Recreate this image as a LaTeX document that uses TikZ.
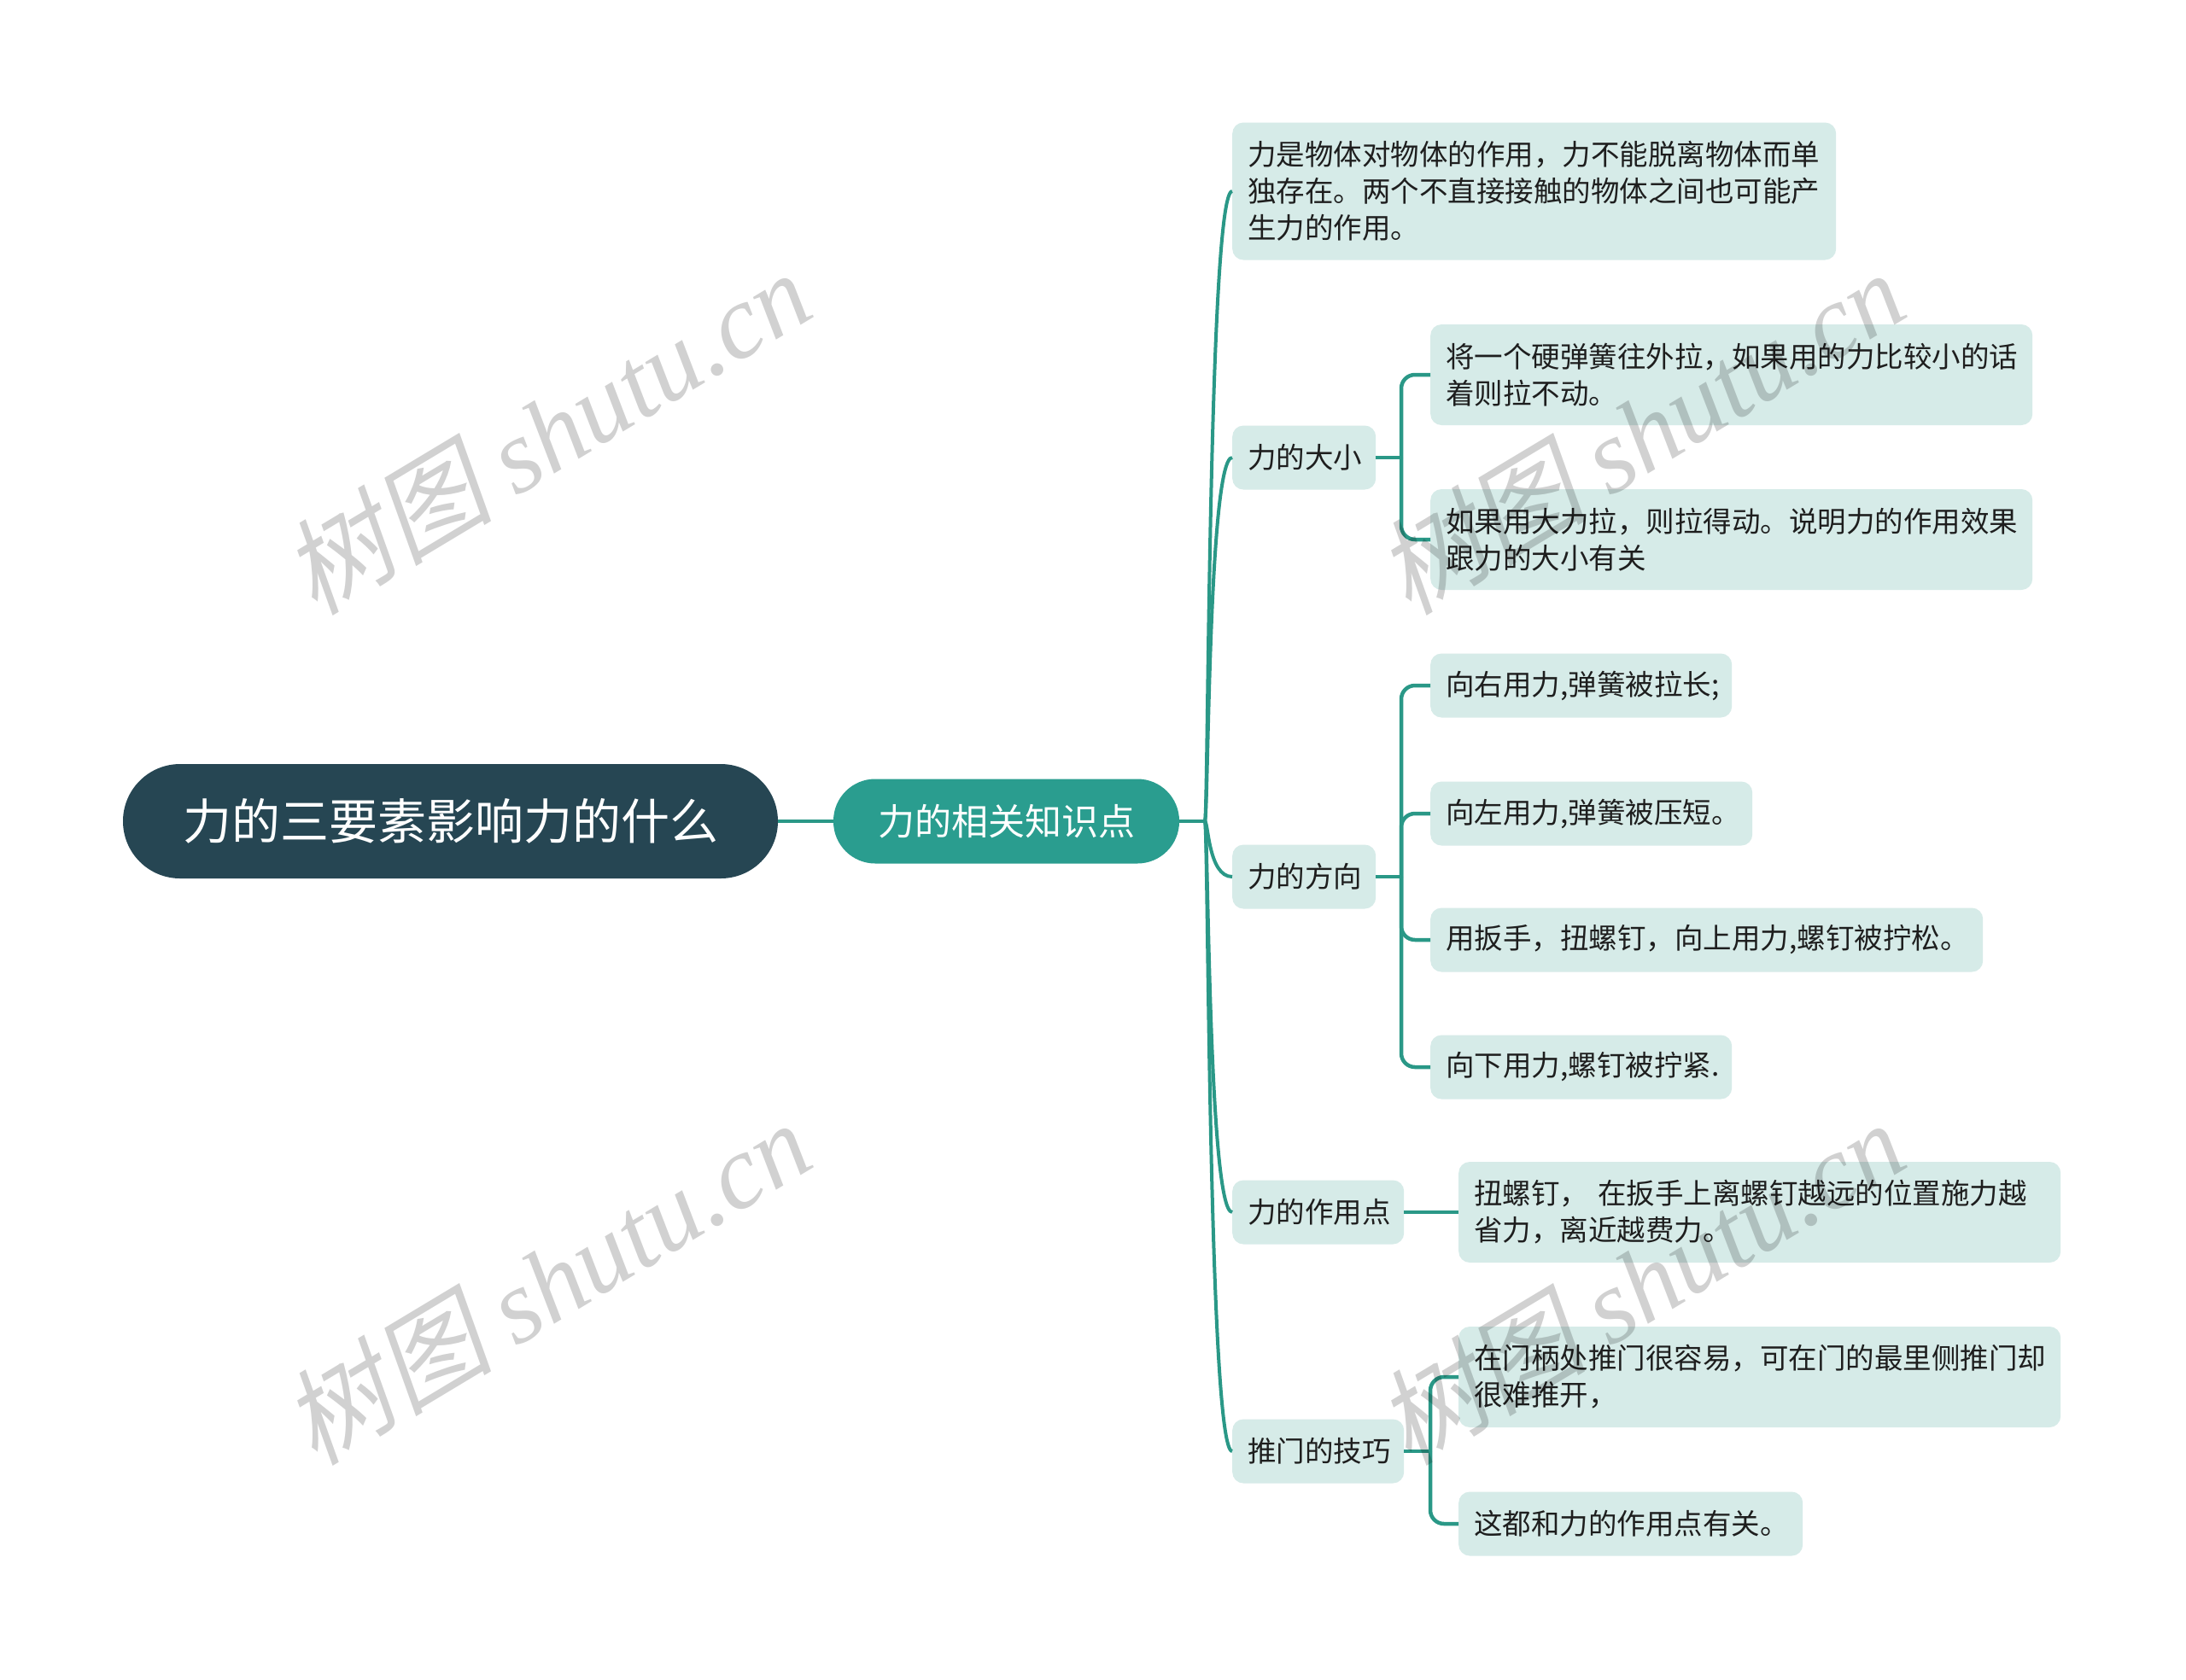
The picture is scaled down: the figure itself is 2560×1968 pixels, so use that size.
\documentclass[tikz,border=0pt]{standalone}
\usepackage{fontspec}
\setmainfont{Noto Sans CJK SC}
\newfontfamily\wmlatin{Liberation Serif}
\newfontfamily\wmcjk[FakeSlant=0.2]{Noto Sans CJK SC}
\definecolor{rootc}{HTML}{264653}
\definecolor{tealc}{HTML}{2A9D8F}
\definecolor{leafc}{HTML}{D6EBE8}
\definecolor{linec}{HTML}{2A9887}
\definecolor{txtc}{HTML}{1E1E1E}
\tikzset{
  rootnode/.style={fill=rootc, text=white, rounded corners=67pt, minimum width=767pt, minimum height=134pt, inner sep=0pt, font=\fontsize{57}{68}\selectfont},
  lonenode/.style={fill=tealc, text=white, rounded corners=49pt, minimum width=405pt, minimum height=99pt, inner sep=0pt, font=\fontsize{43}{52}\selectfont},
  leaf/.style={fill=leafc, text=txtc, rounded corners=13pt, anchor=west, align=left, inner xsep=18pt, inner ysep=0pt, font=\fontsize{33.5}{43}\selectfont},
  one/.style={minimum height=75pt},
  two/.style={minimum height=118pt},
  conn/.style={draw=linec, line width=4pt},
  elbow/.style={draw=linec, line width=4.5pt, rounded corners=16pt},
  wm/.style={text=black, text opacity=0.18, rotate=31, font=\fontsize{123}{128}\selectfont}
}
\begin{document}
\begin{tikzpicture}[x=1pt,y=-1pt]
\fill[white] (0,0) rectangle (2560,1968);
\useasboundingbox (0,0) rectangle (2560,1968);

\node[rootnode] (root) at (527.5,962) {力的三要素影响力的什么};
\node[lonenode] (l1) at (1178.5,962) {力的相关知识点};

\node[leaf, text width=671pt, minimum height=161pt] (n1) at (1443,224) {力是物体对物体的作用，力不能脱离物体而单\\独存在。两个不直接接触的物体之间也可能产\\生力的作用。};
\node[leaf, one, text width=132pt] (size) at (1443,536) {力的大小};
\node[leaf, one, text width=132pt] (dir) at (1443,1027) {力的方向};
\node[leaf, one, text width=165pt] (pt) at (1443,1420) {力的作用点};
\node[leaf, one, text width=165pt] (door) at (1443,1700) {推门的技巧};

\node[leaf, two, text width=669pt] (a1) at (1675,439) {将一个硬弹簧往外拉，如果用的力比较小的话\\着则拉不动。};
\node[leaf, two, text width=669pt] (a2) at (1675,632) {如果用大力拉，则拉得动。说明力的作用效果\\跟力的大小有关};

\node[leaf, one, text width=317pt] (b1) at (1675,803) {向右用力,弹簧被拉长;};
\node[leaf, one, text width=341pt] (b2) at (1675,953) {向左用力,弹簧被压短。};
\node[leaf, one, text width=611pt] (b3) at (1675,1101) {用扳手，扭螺钉，向上用力,螺钉被拧松。};
\node[leaf, one, text width=317pt] (b4) at (1675,1250) {向下用力,螺钉被拧紧.};

\node[leaf, two, text width=669pt] (c1) at (1708,1420) {扭螺钉， 在扳手上离螺钉越远的位置施力越\\省力，离近越费力。};

\node[leaf, two, text width=669pt] (d1) at (1708,1613) {在门柄处推门很容易，可在门的最里侧推门却\\很难推开，};
\node[leaf, one, text width=367pt] (d2) at (1708,1785) {这都和力的作用点有关。};

% connectors
\draw[conn] (root.east) -- (l1.west);
\coordinate (S) at (1411,962);
\coordinate (Sx) at (1415,962);
\draw[conn] (l1.east) -- (S);
\foreach \n in {n1,size,dir,pt,door}{
  \draw[conn] (S) .. controls (Sx) and (Sx |- \n.west) .. (\n.west);
}
\coordinate (bs) at (1641,536);
\draw[elbow] (size.east) -- (bs);
\foreach \n in {a1,a2}{\draw[elbow] (bs) |- (\n.west);}
\coordinate (bd) at (1641,1027);
\draw[elbow] (dir.east) -- (bd);
\foreach \n in {b1,b2,b3,b4}{\draw[elbow] (bd) |- (\n.west);}
\draw[elbow] (pt.east) -- (c1.west);
\coordinate (bp) at (1675,1700);
\draw[elbow] (door.east) -- (bp);
\foreach \n in {d1,d2}{\draw[elbow] (bp) |- (\n.west);}

% watermarks
\node[wm] (w1) at (640,506) {{\wmcjk 树图} {\wmlatin\itshape shutu.cn}};
\node[wm] (w2) at (640,1502) {{\wmcjk 树图} {\wmlatin\itshape shutu.cn}};
\node[wm] (w3) at (1921,506) {{\wmcjk 树图} {\wmlatin\itshape shutu.cn}};
\node[wm] (w4) at (1921,1502) {{\wmcjk 树图} {\wmlatin\itshape shutu.cn}};
\end{tikzpicture}
\end{document}
